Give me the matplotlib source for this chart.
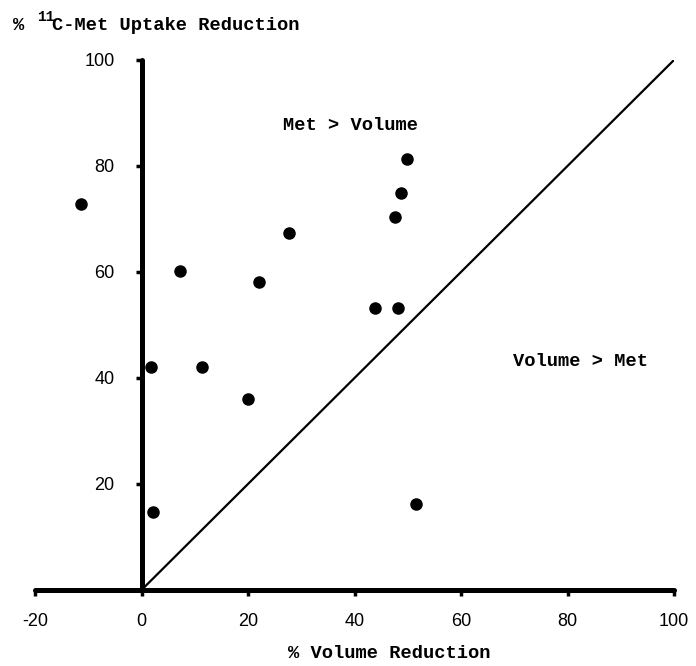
import matplotlib.pyplot as plt

plt.rcParams["axes.unicode_minus"] = False

# % volume reduction vs % 11C-Met uptake reduction
vol_red = [-11.3, 1.8, 2.2, 7.2, 11.3, 20.0, 22.0, 27.7, 43.8, 47.6, 48.1, 48.7, 49.8, 51.6]
met_red = [72.8, 42.1, 14.7, 60.1, 42.0, 36.0, 58.2, 67.3, 53.3, 70.3, 53.2, 75.0, 81.3, 16.2]

x_ticks = [-20, 0, 20, 40, 60, 80, 100]
y_ticks = [20, 40, 60, 80, 100]

mono = dict(family="Liberation Mono", weight="bold", size=13.5)

fig = plt.figure(figsize=(6.96, 6.66), dpi=100)
ax = fig.add_axes([35 / 696, 76 / 666, 639 / 696, 530 / 666])

# line of identity
ax.plot([0, 100], [0, 100], color="black", lw=1.6, solid_capstyle="round")
ax.plot(vol_red, met_red, "o", color="black", ms=8, clip_on=False)

ax.set_xlim(-20, 100)
ax.set_ylim(0, 100)

for s in ["top", "right"]:
    ax.spines[s].set_visible(False)
ax.spines["left"].set_position(("data", 0))
for s in ["left", "bottom"]:
    ax.spines[s].set_linewidth(3.6)
    ax.spines[s].set_capstyle("round")

ax.set_xticks(x_ticks)
ax.set_yticks(y_ticks)
ax.tick_params(direction="out", length=4.5, width=2.5, labelsize=13)
ax.tick_params(axis="x", pad=12)
ax.tick_params(axis="y", pad=15)
for lab in ax.get_xticklabels() + ax.get_yticklabels():
    lab.set_family("Liberation Sans")

ax.text(39.2, 87.7, "Met > Volume", ha="center", va="center", **mono)
ax.text(82.4, 43.2, "Volume > Met", ha="center", va="center", **mono)

# axis titles
fig.text(389 / 696, 1 - 654 / 666, "% Volume Reduction", ha="center", va="center", **mono)
fig.text(13 / 696, 1 - 30 / 666, "%", ha="left", va="baseline", **mono)
fig.text(37 / 696, 1 - 21 / 666, "11", ha="left", va="baseline",
         family="Liberation Mono", weight="bold", size=10.5)
fig.text(52 / 696, 1 - 30 / 666, "C-Met Uptake Reduction", ha="left", va="baseline", **mono)

fig.savefig("out.png", dpi=100)
